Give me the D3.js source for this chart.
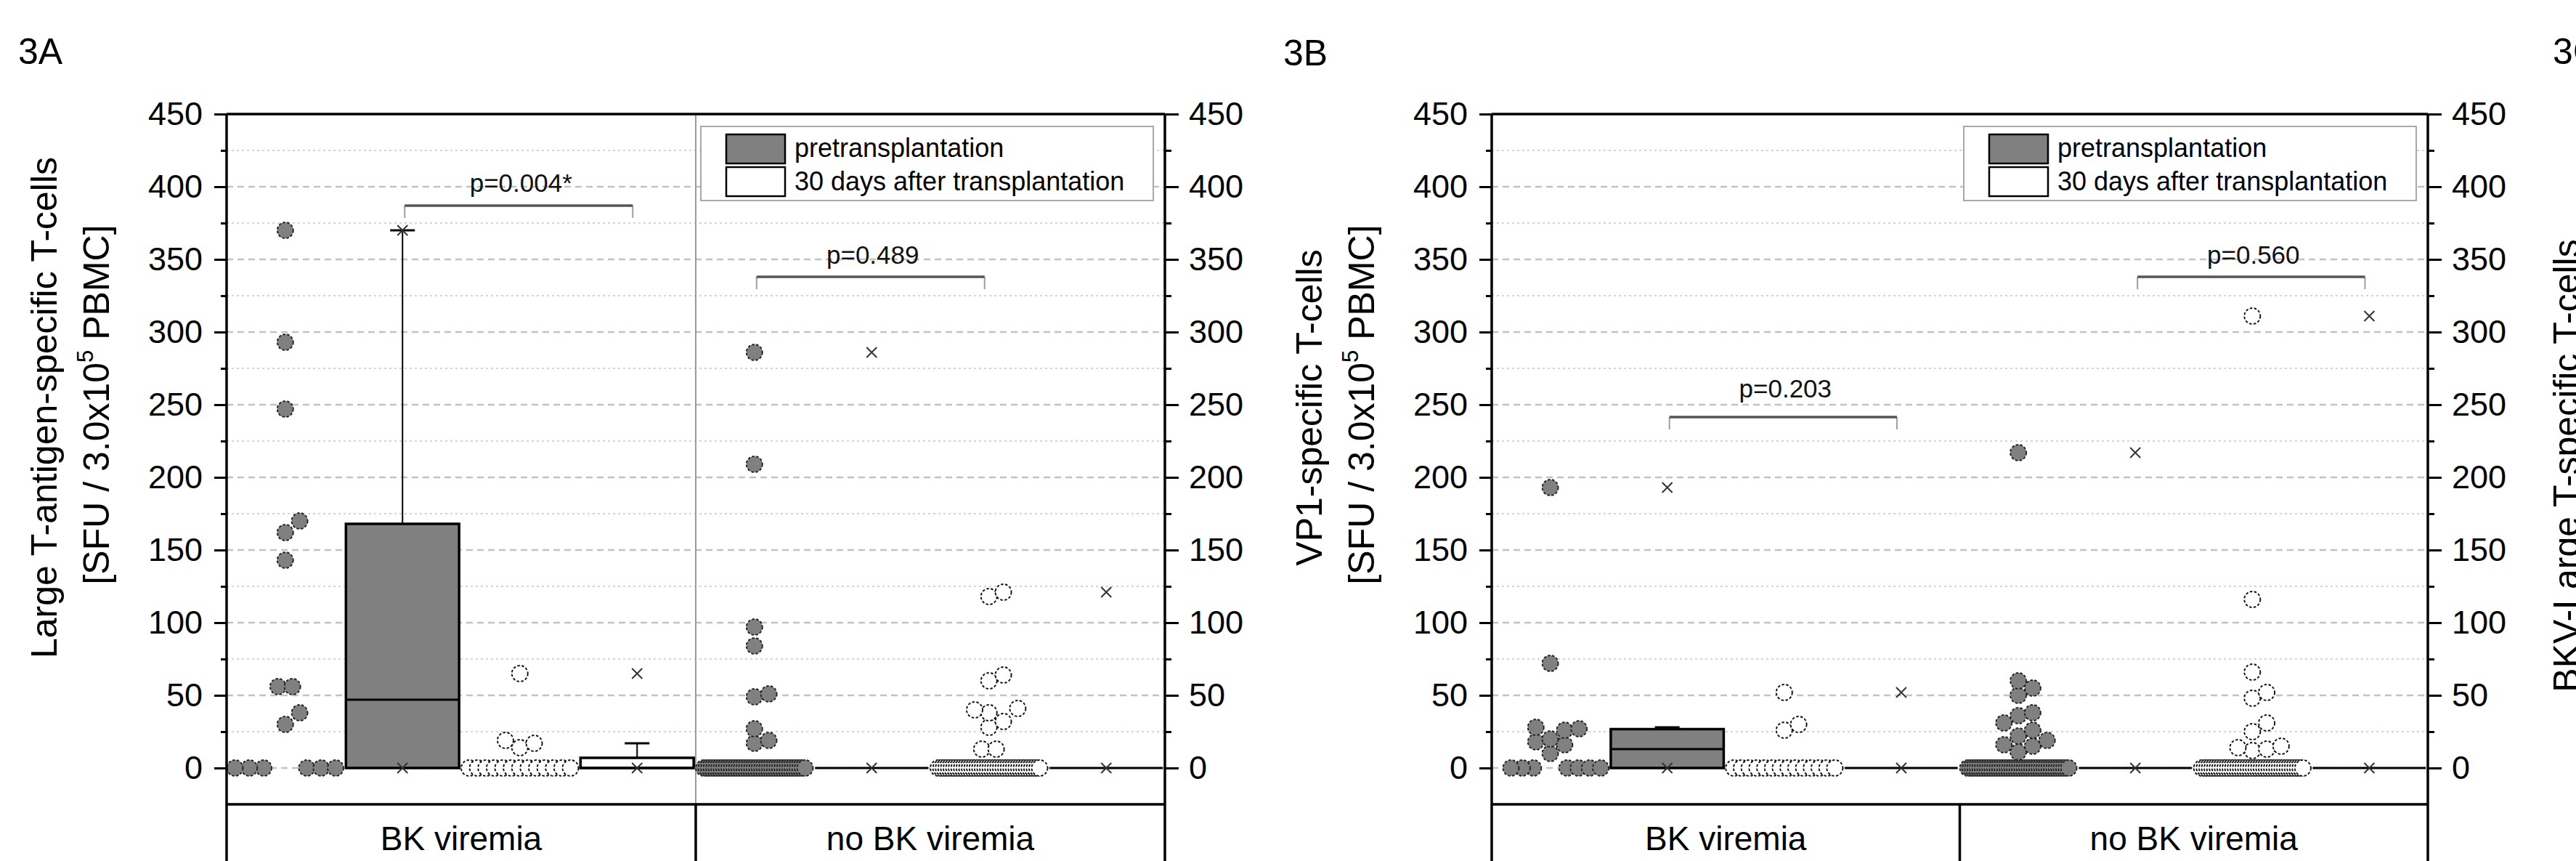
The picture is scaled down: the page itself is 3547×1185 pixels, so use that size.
<!DOCTYPE html>
<html><head><meta charset="utf-8">
<script src="https://cdn.jsdelivr.net/npm/d3@7"></script>
<style>
html,body{margin:0;padding:0;background:#fff;}
svg{display:block;font-family:"Liberation Sans",Arial,Helvetica,sans-serif;}
</style></head><body>
<svg id="chart" width="3547" height="1185"></svg>
<script>
// ---------------- data ----------------
const groups = ["BK viremia", "no BK viremia"];
const seriesNames = ["pretransplantation", "30 days after transplantation"];
const slots = ["preDots", "preBox", "postDots", "postBox"];
const yMajorTicks = [0, 50, 100, 150, 200, 250, 300, 350, 400, 450];
const yMinorTicks = [25, 75, 125, 175, 225, 275, 325, 375, 425];
const panelLabels = ["3A", "3B", "3C"];
const titleLine1 = ["Large T-antigen-specific T-cells", "VP1-specific T-cells", "BKV-Large T-specific T-cells"];
const titleLine2 = ["[SFU / 3.0x10", "5", " PBMC]"];

// Panel 3A: Large T-antigen-specific T-cells
const aBkPre = [0,0,0,0,0,0,30,38,56,56,143,162,170,247,293,370];
const aBkPost = [0,0,0,0,0,0,0,0,0,0,0,0,0,14,17,19,65];
const aNoBkPre = [
  0,0,0,0,0,0,0,0,0,0,
  0,0,0,0,0,0,0,0,0,0,
  0,0,0,0,0,0,0,0,0,0,
  0,0,0,0,0,0,0,0,0,0,
  0,17,19,27,49,51,84,97,209,286];
const aNoBkPost = [
  0,0,0,0,0,0,0,0,0,0,
  0,0,0,0,0,0,0,0,0,0,
  0,0,0,0,0,0,0,0,0,0,
  0,0,0,0,0,0,0,0,0,0,
  13,13,28,32,38,40,41,60,64,118,121];
const aPValues = ["p=0.004*", "p=0.489"];

// Panel 3B: VP1-specific T-cells
const bBkPre = [0,0,0,0,0,0,0,10,16,18,20,26,27,28,72,193];
const bBkPost = [0,0,0,0,0,0,0,0,0,0,0,0,0,0,26,30,52];
const bNoBkPre = [
  0,0,0,0,0,0,0,0,0,0,
  0,0,0,0,0,0,0,0,0,0,
  0,0,0,0,0,0,0,0,0,0,
  0,0,0,0,0,0,0,0,0,0,
  0,0,11,15,16,19,22,26,31,36,38,50,55,60,217];
const bNoBkPost = [
  0,0,0,0,0,0,0,0,0,0,
  0,0,0,0,0,0,0,0,0,0,
  0,0,0,0,0,0,0,0,0,0,
  0,0,0,0,0,0,0,0,0,0,
  12,13,14,15,25,31,48,52,66,116,311];
const bPValues = ["p=0.203", "p=0.560"];

// ---------------- layout ----------------
const FONT = '"Liberation Sans",Arial,Helvetica,sans-serif';
const svg = d3.select("#chart");
const y = d3.scaleLinear().domain([-25, 450]).range([1107, 157]);
const R = 11;
const PRE_FILL = "#808080";

const panels = [
  { label: panelLabels[0], labelX: 25, labelY: 88, x0: 312, x1: 1604, grayDivider: true,
    t1: titleLine1[0],
    series: [[aBkPre, aBkPost], [aNoBkPre, aNoBkPost]],
    brackets: [
      { g: 0, from: "preBox", to: "postBox", v: 387, tv: 396.5, text: aPValues[0] },
      { g: 1, from: "preDots", to: "postDots", v: 338, tv: 346.8, text: aPValues[1] }
    ] },
  { label: panelLabels[1], labelX: 1767, labelY: 90, x0: 2054, x1: 3343, grayDivider: false,
    t1: titleLine1[1],
    series: [[bBkPre, bBkPost], [bNoBkPre, bNoBkPost]],
    brackets: [
      { g: 0, from: "preBox", to: "postBox", v: 241.5, tv: 255, text: bPValues[0] },
      { g: 1, from: "preBox", to: "postBox", v: 338, tv: 346.8, text: bPValues[1] }
    ] }
];

function quant(sorted, p) {
  const n = sorted.length;
  const pos = (n + 1) * p;
  if (pos <= 1) return sorted[0];
  if (pos >= n) return sorted[n - 1];
  const lo = Math.floor(pos), f = pos - lo;
  return sorted[lo - 1] + f * (sorted[lo] - sorted[lo - 1]);
}
function boxStats(vals) {
  const s = vals.slice().sort((a, b) => a - b);
  const q1 = quant(s, 0.25), med = quant(s, 0.5), q3 = quant(s, 0.75);
  const iqr = q3 - q1;
  const hi = d3.max(s.filter(v => v <= q3 + 1.5 * iqr));
  const lo = d3.min(s.filter(v => v >= q1 - 1.5 * iqr));
  return { q1, med, q3, hi, lo, min: s[0], max: s[s.length - 1] };
}
function swarm(vals, cx, slotW) {
  const s = 2 * R * 0.9;
  const byVal = d3.group(vals, v => v);
  const keys = [...byVal.keys()].sort((a, b) => a - b);
  const placed = [], out = [];
  keys.forEach(v => {
    const k = byVal.get(v).length;
    if (k > 1 && k < 5) {
      for (let i = 0; i < k; i++) {
        const p = { v, x: cx + (i - (k - 1) / 2) * s, y: y(v) };
        out.push(p); placed.push(p);
      }
    } else if (k >= 5 && k <= 10) {
      // sparse tie row: split to both sides of the column centre
      const nL = Math.floor(k / 2), nR = k - nL;
      const sp = Math.min(s, (slotW / 2 - R) / (Math.max(nL, nR) + 0.5));
      for (let i = 0; i < nL; i++) out.push({ v, x: cx - (1.5 + i) * sp, y: y(v) });
      for (let i = 0; i < nR; i++) out.push({ v, x: cx + (1.5 + i) * sp, y: y(v) });
    } else if (k > 10) {
      const sp = Math.min(s, (slotW - 2 * R) / (k - 1));
      for (let i = 0; i < k; i++) out.push({ v, x: cx + (i - (k - 1) / 2) * sp, y: y(v) });
    }
  });
  keys.forEach(v => {
    if (byVal.get(v).length !== 1) return;
    const py = y(v);
    for (let j = 0; j < 40; j++) {
      const off = j === 0 ? 0 : (j % 2 ? 1 : -1) * Math.ceil(j / 2) * s;
      const px = cx + off;
      if (placed.every(q => Math.hypot(q.x - px, q.y - py) >= s - 0.01)) {
        const p = { v, x: px, y: py };
        placed.push(p); out.push(p);
        break;
      }
    }
  });
  return out;
}

panels.forEach(P => {
  const g = svg.append("g");
  const xg = d3.scaleBand().domain(groups).range([P.x0, P.x1]);
  const xs = d3.scaleBand().domain(slots).range([0, xg.bandwidth()]);
  const cx = (grp, sl) => xg(grp) + xs(sl) + xs.bandwidth() / 2;

  // gridlines
  g.append("g").selectAll("line").data(yMinorTicks).join("line")
    .attr("x1", P.x0).attr("x2", P.x1).attr("y1", d => y(d)).attr("y2", d => y(d))
    .attr("stroke", "#d4d4d4").attr("stroke-width", 2).attr("stroke-dasharray", "3,4");
  g.append("g").selectAll("line").data(yMajorTicks.filter(d => d < 450)).join("line")
    .attr("x1", P.x0).attr("x2", P.x1).attr("y1", d => y(d)).attr("y2", d => y(d))
    .attr("stroke", "#c2c2c2").attr("stroke-width", 2.5).attr("stroke-dasharray", "9,6");

  // gray divider inside the plot
  if (P.grayDivider) {
    g.append("line").attr("x1", xg(groups[1])).attr("x2", xg(groups[1]))
      .attr("y1", y(450)).attr("y2", y(-25)).attr("stroke", "#9a9a9a").attr("stroke-width", 2);
  }

  // data per group
  groups.forEach((grp, gi) => {
    P.series[gi].forEach((vals, si) => {
      const dotSlot = si === 0 ? "preDots" : "postDots";
      const boxSlot = si === 0 ? "preBox" : "postBox";
      const fill = si === 0 ? PRE_FILL : "#ffffff";
      // dots
      const pts = swarm(vals, cx(grp, dotSlot), xs.bandwidth());
      g.append("g").selectAll("circle").data(pts).join("circle")
        .attr("cx", d => d.x).attr("cy", d => d.y).attr("r", R)
        .attr("fill", fill)
        .attr("stroke", si === 0 ? "#222" : "#111")
        .attr("stroke-width", 1.9).attr("stroke-dasharray", "3.5,2.5");
      // box
      const st = boxStats(vals);
      const bx = cx(grp, boxSlot);
      const bw = xs.bandwidth() * 0.965;
      const bg = g.append("g");
      if (st.hi > st.q3) {
        bg.append("line").attr("x1", bx).attr("x2", bx).attr("y1", y(st.q3)).attr("y2", y(st.hi))
          .attr("stroke", "#000").attr("stroke-width", 2);
        bg.append("line").attr("x1", bx - 17).attr("x2", bx + 17).attr("y1", y(st.hi)).attr("y2", y(st.hi))
          .attr("stroke", "#000").attr("stroke-width", 3);
      }
      if (st.lo < st.q1) {
        bg.append("line").attr("x1", bx).attr("x2", bx).attr("y1", y(st.q1)).attr("y2", y(st.lo))
          .attr("stroke", "#000").attr("stroke-width", 2);
        bg.append("line").attr("x1", bx - 17).attr("x2", bx + 17).attr("y1", y(st.lo)).attr("y2", y(st.lo))
          .attr("stroke", "#000").attr("stroke-width", 3);
      }
      bg.append("rect").attr("x", bx - bw / 2).attr("width", bw)
        .attr("y", y(st.q3)).attr("height", y(st.q1) - y(st.q3))
        .attr("fill", fill).attr("stroke", "#000").attr("stroke-width", 3.5);
      bg.append("line").attr("x1", bx - bw / 2).attr("x2", bx + bw / 2)
        .attr("y1", y(st.med)).attr("y2", y(st.med)).attr("stroke", "#000").attr("stroke-width", 3);
      // min / max markers
      [st.min, st.max].forEach(v => {
        const yy = y(v), k = 7;
        bg.append("path").attr("d", `M${bx - k},${yy - k}L${bx + k},${yy + k}M${bx - k},${yy + k}L${bx + k},${yy - k}`)
          .attr("stroke", "#333").attr("stroke-width", 2).attr("fill", "none");
      });
    });
  });

  // significance brackets
  P.brackets.forEach(b => {
    const grp = groups[b.g];
    const xa = cx(grp, b.from) + 3, xb = cx(grp, b.to) - 6;
    const yy = y(b.v);
    g.append("path").attr("d", `M${xa},${yy + 17}L${xa},${yy}M${xb},${yy}L${xb},${yy + 17}`)
      .attr("stroke", "#a0a0a0").attr("stroke-width", 2).attr("fill", "none");
    g.append("line").attr("x1", xa).attr("x2", xb).attr("y1", yy).attr("y2", yy)
      .attr("stroke", "#555").attr("stroke-width", 3.5);
    g.append("text").attr("x", (xa + xb) / 2 + 3).attr("y", y(b.tv))
      .attr("text-anchor", "middle").attr("font-size", 35).attr("fill", "#111").text(b.text);
  });

  // frame
  const frame = g.append("g").attr("stroke", "#000").attr("stroke-width", 3.5);
  frame.append("line").attr("x1", P.x0).attr("x2", P.x1).attr("y1", y(450)).attr("y2", y(450));
  frame.append("line").attr("x1", P.x0).attr("x2", P.x1).attr("y1", y(-25)).attr("y2", y(-25));
  frame.append("line").attr("x1", P.x0).attr("x2", P.x0).attr("y1", y(450)).attr("y2", 1190);
  frame.append("line").attr("x1", P.x1).attr("x2", P.x1).attr("y1", y(450)).attr("y2", 1190);
  frame.append("line").attr("x1", xg(groups[1])).attr("x2", xg(groups[1])).attr("y1", y(-25)).attr("y2", 1190);

  // axes
  const styleAxis = sel => {
    sel.select(".domain").remove();
    sel.selectAll(".tick line").attr("stroke", "#000").attr("stroke-width", 3);
    sel.selectAll(".tick text").attr("font-size", 45).attr("font-family", FONT).attr("fill", "#000");
  };
  g.append("g").attr("transform", `translate(${P.x0},0)`)
    .call(d3.axisLeft(y).tickValues(yMinorTicks).tickSize(8).tickFormat(""))
    .call(styleAxis);
  g.append("g").attr("transform", `translate(${P.x0},0)`)
    .call(d3.axisLeft(y).tickValues(yMajorTicks).tickSize(17).tickPadding(16))
    .call(styleAxis);
  g.append("g").attr("transform", `translate(${P.x1},0)`)
    .call(d3.axisRight(y).tickValues(yMinorTicks).tickSize(9).tickFormat(""))
    .call(styleAxis);
  g.append("g").attr("transform", `translate(${P.x1},0)`)
    .call(d3.axisRight(y).tickValues(yMajorTicks).tickSize(19).tickPadding(14))
    .call(styleAxis);

  // category labels
  g.append("g").selectAll("text").data(groups).join("text")
    .attr("x", d => xg(d) + xg.bandwidth() / 2).attr("y", 1170)
    .attr("text-anchor", "middle").attr("font-size", 46).attr("fill", "#000").text(d => d);

  // y title
  const tg = g.append("g").attr("font-size", 50).attr("fill", "#000").attr("text-anchor", "middle");
  tg.append("text").attr("transform", `translate(${P.x0 - 234},561) rotate(-90)`).text(P.t1);
  const t2 = tg.append("text").attr("transform", `translate(${P.x0 - 162},557) rotate(-90)`);
  t2.append("tspan").text(titleLine2[0]);
  t2.append("tspan").attr("font-size", 31).attr("dy", -22).text(titleLine2[1]);
  t2.append("tspan").attr("dy", 22).text(titleLine2[2]);

  // panel label
  g.append("text").attr("x", P.labelX).attr("y", P.labelY).attr("font-size", 50).attr("fill", "#000").text(P.label);

  // legend
  const lx = P.x1 - 639, ly = 174;
  const lg = g.append("g");
  lg.append("rect").attr("x", lx).attr("y", ly).attr("width", 623).attr("height", 102)
    .attr("fill", "#fff").attr("stroke", "#a8a8a8").attr("stroke-width", 2);
  seriesNames.forEach((nm, i) => {
    lg.append("rect").attr("x", lx + 35).attr("y", ly + 11 + i * 45).attr("width", 81).attr("height", 40)
      .attr("fill", i === 0 ? PRE_FILL : "#fff").attr("stroke", "#000").attr("stroke-width", 2.5);
    lg.append("text").attr("x", lx + 129).attr("y", ly + 42 + i * 46).attr("font-size", 36).attr("fill", "#000").text(nm);
  });
});

// partially visible third panel (3C) at right edge, cut by the frame as in the original figure
svg.append("text").attr("x", 3515).attr("y", 88).attr("font-size", 50).attr("fill", "#000").text(panelLabels[2]);
svg.append("text").attr("transform", "translate(3551,641) rotate(-90)")
  .attr("text-anchor", "middle").attr("font-size", 50).attr("fill", "#000").text(titleLine1[2]);
</script>
</body></html>
